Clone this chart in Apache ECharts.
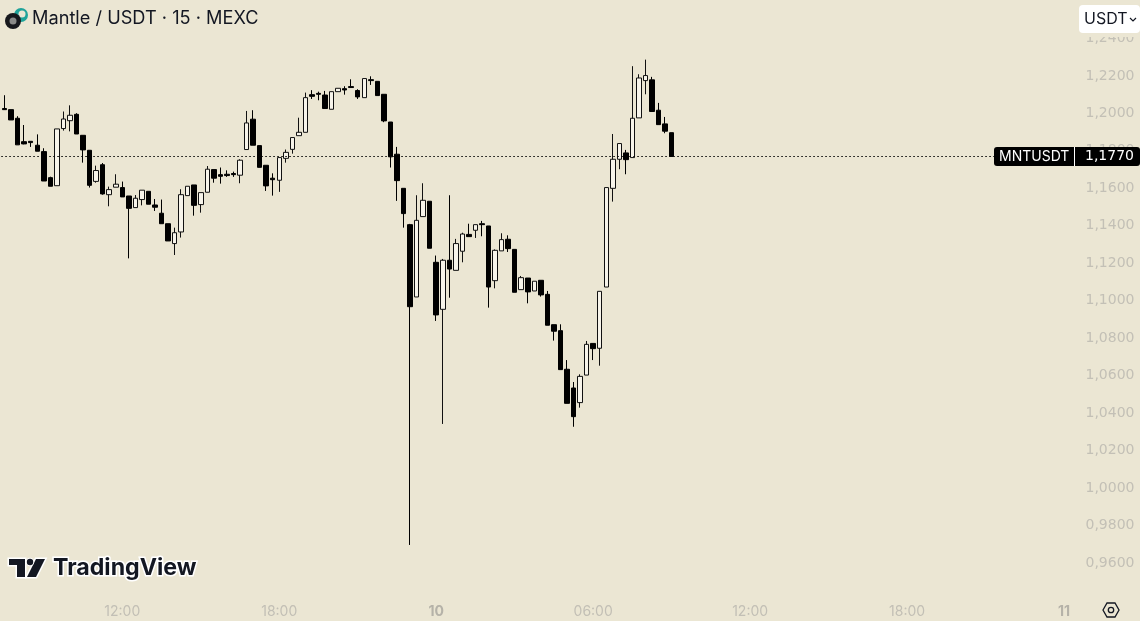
<!DOCTYPE html>
<html><head><meta charset="utf-8">
<style>html,body{margin:0;padding:0;background:#EBE6D3}#c{width:1140px;height:621px}</style>
<script src="https://cdn.jsdelivr.net/npm/echarts@6/dist/echarts.min.js"></script>
</head><body><div id="c"></div>
<script>
const opens=[1.2026,1.2020,1.1974,1.1849,1.1851,1.1830,1.1796,1.1657,1.1614,1.1919,
1.1961,1.1995,1.1883,1.1803,1.1637,1.1726,1.1566,1.1606,1.1604,1.1559,
1.1497,1.1540,1.1584,1.1511,1.1467,1.1411,1.1305,1.1367,1.1561,1.1618,
1.1513,1.1579,1.1700,1.1673,1.1675,1.1679,1.1670,1.1807,1.1969,1.1828,
1.1723,1.1654,1.1643,1.1760,1.1808,1.1881,1.1899,1.2100,1.2107,1.2098,
1.2022,1.2116,1.2132,1.2143,1.2122,1.2084,1.2180,1.2171,1.2102,1.1954,
1.1782,1.1600,1.1406,1.1020,1.1449,1.1531,1.1205,1.0954,1.1216,1.1162,
1.1264,1.1354,1.1376,1.1411,1.1399,1.1107,1.1266,1.1328,1.1274,1.1059,
1.1121,1.1052,1.1109,1.1034,1.0872,1.0840,1.0634,1.0534,1.0456,1.0603,
1.0772,1.0746,1.1073,1.1600,1.1755,1.1789,1.1764,1.1976,1.2175,1.2179,
1.2017,1.1944,1.1897];
const closes=[1.2020,1.1965,1.1832,1.1837,1.1844,1.1798,1.1639,1.1611,1.1917,1.1970,
1.1990,1.1890,1.1805,1.1616,1.1695,1.1570,1.1593,1.1622,1.1554,1.1493,
1.1547,1.1590,1.1515,1.1499,1.1411,1.1319,1.1363,1.1566,1.1611,1.1509,
1.1577,1.1702,1.1654,1.1664,1.1668,1.1673,1.1750,1.1949,1.1830,1.1712,
1.1613,1.1646,1.1764,1.1792,1.1871,1.1899,1.2084,1.2091,1.2102,1.2026,
1.2116,1.2134,1.2125,1.2138,1.2088,1.2186,1.2175,1.2095,1.1960,1.1768,
1.1641,1.1465,1.0968,1.1429,1.1536,1.1280,1.0924,1.1216,1.1169,1.1305,
1.1356,1.1342,1.1406,1.1406,1.1073,1.1269,1.1326,1.1278,1.1045,1.1123,
1.1047,1.1104,1.1031,1.0869,1.0837,1.0632,1.0452,1.0381,1.0596,1.0767,
1.0744,1.1050,1.1604,1.1755,1.1839,1.1753,1.1974,1.2189,1.2202,1.2010,
1.1940,1.1905,1.1770];
const lows=[1.2020,1.1965,1.1832,1.1835,1.1821,1.1798,1.1639,1.1611,1.1614,1.1908,
1.1904,1.1890,1.1737,1.1604,1.1630,1.1566,1.1504,1.1606,1.1554,1.1226,
1.1497,1.1509,1.1515,1.1479,1.1411,1.1319,1.1244,1.1337,1.1561,1.1454,
1.1470,1.1579,1.1630,1.1625,1.1661,1.1661,1.1627,1.1807,1.1830,1.1712,
1.1586,1.1561,1.1581,1.1737,1.1785,1.1881,1.1899,1.2077,1.2070,1.2026,
1.2022,1.2116,1.2100,1.2138,1.2077,1.2084,1.2152,1.2095,1.1953,1.1711,
1.1533,1.1390,0.9696,1.1020,1.1449,1.1280,1.0892,1.0342,1.1016,1.1162,
1.1205,1.1342,1.1335,1.1344,1.0963,1.1066,1.1266,1.1260,1.1045,1.1059,
1.0986,1.1052,1.1022,1.0869,1.0787,1.0632,1.0452,1.0327,1.0429,1.0603,
1.0683,1.0653,1.1073,1.1529,1.1702,1.1675,1.1764,1.1976,1.2102,1.2010,
1.1940,1.1894,1.1770];
const highs=[1.2097,1.2020,1.1985,1.1938,1.1851,1.1888,1.1814,1.1662,1.1917,1.2010,
1.2043,1.2001,1.1883,1.1803,1.1721,1.1735,1.1609,1.1675,1.1636,1.1559,
1.1564,1.1590,1.1584,1.1543,1.1540,1.1411,1.1390,1.1595,1.1611,1.1618,
1.1577,1.1719,1.1700,1.1711,1.1696,1.1689,1.1755,1.2013,1.2017,1.1828,
1.1723,1.1680,1.1764,1.1807,1.1871,1.1977,1.2111,1.2124,1.2116,1.2120,
1.2116,1.2134,1.2145,1.2182,1.2129,1.2186,1.2198,1.2171,1.2102,1.1954,
1.1821,1.1600,1.1410,1.1563,1.1627,1.1531,1.1241,1.1223,1.1563,1.1330,
1.1363,1.1411,1.1406,1.1426,1.1399,1.1274,1.1360,1.1349,1.1274,1.1132,
1.1121,1.1104,1.1109,1.1052,1.0872,1.0874,1.0683,1.0566,1.0607,1.0785,
1.0772,1.1050,1.1604,1.1890,1.1839,1.1805,1.2252,1.2209,1.2287,1.2195,
1.2056,1.1981,1.1897];
const lastPrice=1.1770;
const tickIndexes=[18,42,66,90,114,138,162];
const tickLabels=['12:00','18:00','10','06:00','12:00','18:00','11'];
const boldTicks=['10','11'];
const TITLE='Mantle / USDT · 15 · MEXC';
const SLOTS=167;
const categories=Array.from({length:SLOTS},(_,i)=>{const k=tickIndexes.indexOf(i);return k>=0?tickLabels[k]:String(i);});
const candles=opens.map((o,i)=>[o,closes[i],lows[i],highs[i]]);
const fmt=v=>v.toFixed(4).replace('.',',');
const FONT='Inter, "Liberation Sans", sans-serif';
const NUM='"DejaVu Sans", sans-serif';
const INK='#131722';
const BG='#EBE6D3';
const chart=echarts.init(document.getElementById('c'),null,{renderer:'canvas'});
chart.setOption({
 animation:false,backgroundColor:BG,
 grid:{left:1.3,top:1,width:1092.2,height:599.4,containLabel:false},
 xAxis:{type:'category',data:categories,boundaryGap:true,
  axisLine:{show:false},axisTick:{show:false},splitLine:{show:false},
  axisLabel:{show:true,margin:4,fontFamily:FONT,fontSize:14,color:'#C2BFB5',hideOverlap:false,
   interval:(i)=>tickIndexes.includes(i),
   formatter:(v)=>boldTicks.includes(v)?'{b|'+v+'}':v,
   rich:{b:{fontFamily:FONT,fontSize:14,fontWeight:700,color:'#B5B2A8'}}}},
 yAxis:{type:'value',position:'right',min:0.94,max:1.26,interval:0.02,scale:true,
  axisLine:{show:false},axisTick:{show:false},splitLine:{show:false},
  axisLabel:{margin:-8,align:'left',fontFamily:NUM,fontSize:14,color:'#C3C0B6',padding:[1,0,0,0],
   formatter:(v)=>(v<0.95||v>1.25)?'':fmt(v)}},
 series:[{type:'candlestick',data:candles,barWidth:5,
  itemStyle:{color:'#F7F4EA',color0:'#000',borderColor:'#111',borderColor0:'#000',borderWidth:1},
  markLine:{silent:true,symbol:'none',precision:4,label:{show:false},
   lineStyle:{color:'#000',type:[1.5,2.5],width:1},data:[{yAxis:lastPrice}]}}],
 graphic:[
  {type:'rect',z:50,shape:{x:994,y:147,width:146,height:19,r:3},style:{fill:'#000'}},
  {type:'rect',z:51,shape:{x:1074,y:147,width:1,height:19},style:{fill:'#fff'}},
  {type:'text',z:52,x:999,y:156.5,style:{text:'MNTUSDT',fill:'#fff',font:'14px '+FONT,textVerticalAlign:'middle'}},
  {type:'text',z:52,x:1085,y:156.5,style:{text:fmt(lastPrice),fill:'#fff',font:'14px '+NUM,textVerticalAlign:'middle'}},
  {type:'rect',z:49,shape:{x:1079,y:30,width:61,height:7},style:{fill:BG}},
  {type:'rect',z:50,shape:{x:1079,y:5,width:61,height:28,r:4},style:{fill:'#fff'}},
  {type:'text',z:52,x:1084,y:19,style:{text:'USDT',fill:INK,font:'16px '+FONT,textVerticalAlign:'middle'}},
  {type:'polyline',z:52,shape:{points:[[1130,18],[1133,21],[1136,18]]},style:{stroke:INK,lineWidth:1.2,fill:'none'}},
  {type:'circle',z:50,shape:{cx:21,cy:15,r:7},style:{fill:'#1FA39A'}},
  {type:'circle',z:51,shape:{cx:22,cy:14,r:3.5},style:{fill:BG}},
  {type:'circle',z:52,shape:{cx:13,cy:21,r:8},style:{fill:'#17181C'}},
  {type:'circle',z:53,shape:{cx:13,cy:21,r:3.5},style:{fill:'#8A8A88'}},
  {type:'text',z:52,x:32,y:18.5,style:{text:TITLE,fill:INK,font:'18.2px '+FONT,textVerticalAlign:'middle'}},
  {type:'polygon',z:51,shape:{points:[[9,559],[25,559],[25,577],[17,577],[17,565],[9,565]]},style:{fill:INK,stroke:'#fff',lineWidth:3,strokeFirst:true}},
  {type:'polygon',z:51,shape:{points:[[36,559],[45,559],[36,577],[27,577]]},style:{fill:INK,stroke:'#fff',lineWidth:3,strokeFirst:true}},
  {type:'circle',z:51,shape:{cx:30,cy:562,r:3.2},style:{fill:INK,stroke:'#fff',lineWidth:2,strokeFirst:true}},
  {type:'text',z:52,x:53,y:568.5,style:{text:'TradingView',fill:INK,stroke:'#fff',lineWidth:3,font:'700 23.2px '+FONT,textVerticalAlign:'middle'}},
  {type:'polygon',z:52,shape:{points:[[1103,610],[1107,603],[1115,603],[1119,610],[1115,617],[1107,617]]},style:{fill:'none',stroke:INK,lineWidth:1.3}},
  {type:'circle',z:52,shape:{cx:1111,cy:610,r:2.7},style:{fill:'none',stroke:INK,lineWidth:1.3}}
 ]
});
</script></body></html>
